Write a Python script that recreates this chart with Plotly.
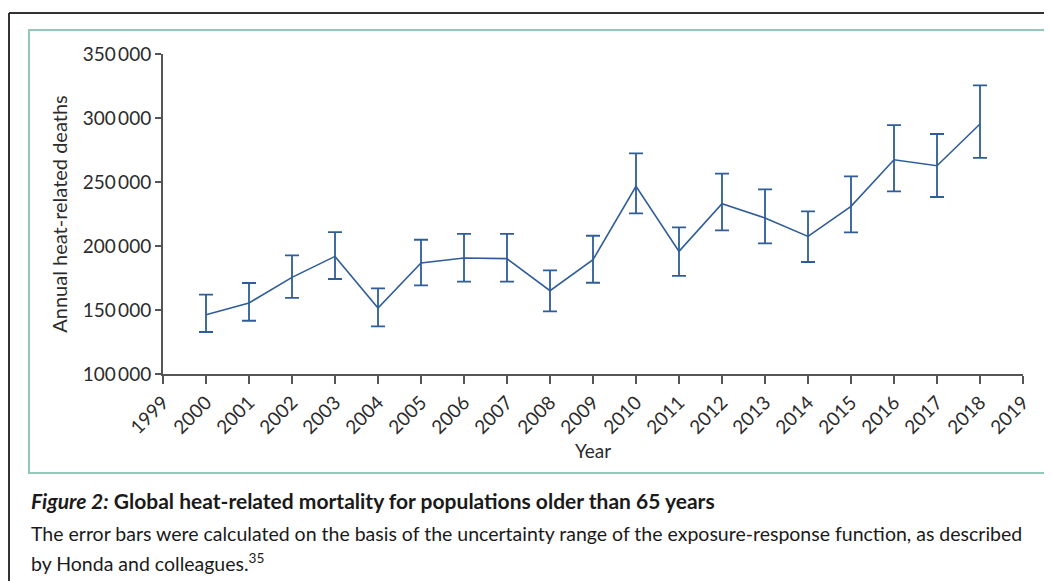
import plotly.graph_objects as go

years = list(range(2000, 2019))
deaths = [146300, 155500, 175500, 191900, 151600, 186700, 190600, 190100, 165100, 189300,
          246600, 195800, 233000, 221900, 207500, 231000, 267400, 262700, 295300]
upper = [162000, 171100, 192700, 210900, 166900, 204900, 209400, 209400, 180900, 208000,
         272300, 214500, 256500, 244200, 227000, 254400, 294500, 287500, 325500]
lower = [132800, 141600, 159400, 174200, 137200, 169200, 172100, 172100, 148900, 171300,
         225500, 176600, 212200, 202000, 187500, 210600, 242700, 238300, 268800]

y_ticks = [100000, 150000, 200000, 250000, 300000, 350000]
y_tick_labels = ["100\u2009000", "150\u2009000", "200\u2009000", "250\u2009000", "300\u2009000", "350\u2009000"]
x_ticks = list(range(1999, 2020))

err_plus = [u - d for u, d in zip(upper, deaths)]
err_minus = [d - l for d, l in zip(deaths, lower)]

BLUE = "#2f5d98"
FONT = "Lato, 'Open Sans', sans-serif"
TXT = "#2b2b2b"

# page is rendered with an 8px body margin
OFF = 8
PAGE_W, PAGE_H = 1052, 581
W, H = PAGE_W - OFF, PAGE_H - OFF
L, R, T, B = 163, 1023, 54, 374  # plot area in page pixels
pw, ph = R - L, B - T

def px(x):
    return (x - L) / pw

def py(y):
    return (B - y) / ph

fig = go.Figure()
fig.add_trace(go.Scatter(
    x=years, y=deaths, mode="lines",
    line=dict(color=BLUE, width=1.6),
    error_y=dict(type="data", symmetric=False, array=err_plus, arrayminus=err_minus,
                 color=BLUE, thickness=1.8, width=7),
    showlegend=False, hoverinfo="skip",
))

shapes = [
    dict(type="rect", xref="paper", yref="paper", x0=px(29), x1=px(1048), y0=py(473), y1=py(30),
         line=dict(color="#93c9b8", width=2), layer="below"),
    dict(type="line", xref="paper", yref="paper", x0=px(9), x1=px(1060), y0=py(13), y1=py(13),
         line=dict(color="#333333", width=2)),
    dict(type="line", xref="paper", yref="paper", x0=px(9), x1=px(9), y0=py(13), y1=py(590),
         line=dict(color="#333333", width=2)),
]

annotations = [
    dict(xref="paper", yref="paper", x=px(29), y=py(500), xanchor="left", yanchor="middle",
         text="<b><i>Figure 2:</i> Global heat-related mortality for populations older than 65 years</b>",
         showarrow=False, font=dict(family=FONT, size=21, color="#1a1a1a")),
    dict(xref="paper", yref="paper", x=px(29), y=py(533), xanchor="left", yanchor="middle",
         text="The error bars were calculated on the basis of the uncertainty range of the exposure-response function, as described",
         showarrow=False, font=dict(family=FONT, size=19.5, color="#1a1a1a")),
    dict(xref="paper", yref="paper", x=px(29), y=py(562), xanchor="left", yanchor="middle",
         text="by Honda and colleagues.<sup>35</sup>",
         showarrow=False, font=dict(family=FONT, size=19.5, color="#1a1a1a")),
]

fig.update_layout(
    width=W, height=H,
    margin=dict(l=L - OFF, r=PAGE_W - R, t=T - OFF, b=PAGE_H - B, autoexpand=False),
    paper_bgcolor="white", plot_bgcolor="white",
    font=dict(family=FONT, color=TXT),
    shapes=shapes, annotations=annotations,
    xaxis=dict(range=[1999, 2019], tickvals=x_ticks, ticktext=[str(v) for v in x_ticks],
               tickangle=-45, ticks="outside", ticklen=8, tickwidth=2, tickcolor="#555555",
               showline=True, linecolor="#555555", linewidth=2, showgrid=False, zeroline=False,
               tickfont=dict(size=19, color=TXT),
               title=dict(text="Year", font=dict(size=19, color=TXT), standoff=8)),
    yaxis=dict(range=[100000, 350000], tickvals=y_ticks, ticktext=y_tick_labels,
               ticks="outside", ticklen=6, tickwidth=2, tickcolor="#555555",
               showline=True, linecolor="#555555", linewidth=2, showgrid=False, zeroline=False,
               tickfont=dict(size=19, color=TXT),
               title=dict(text="Annual heat-related deaths", font=dict(size=20, color=TXT), standoff=10)),
)

fig.write_html("out.html")
